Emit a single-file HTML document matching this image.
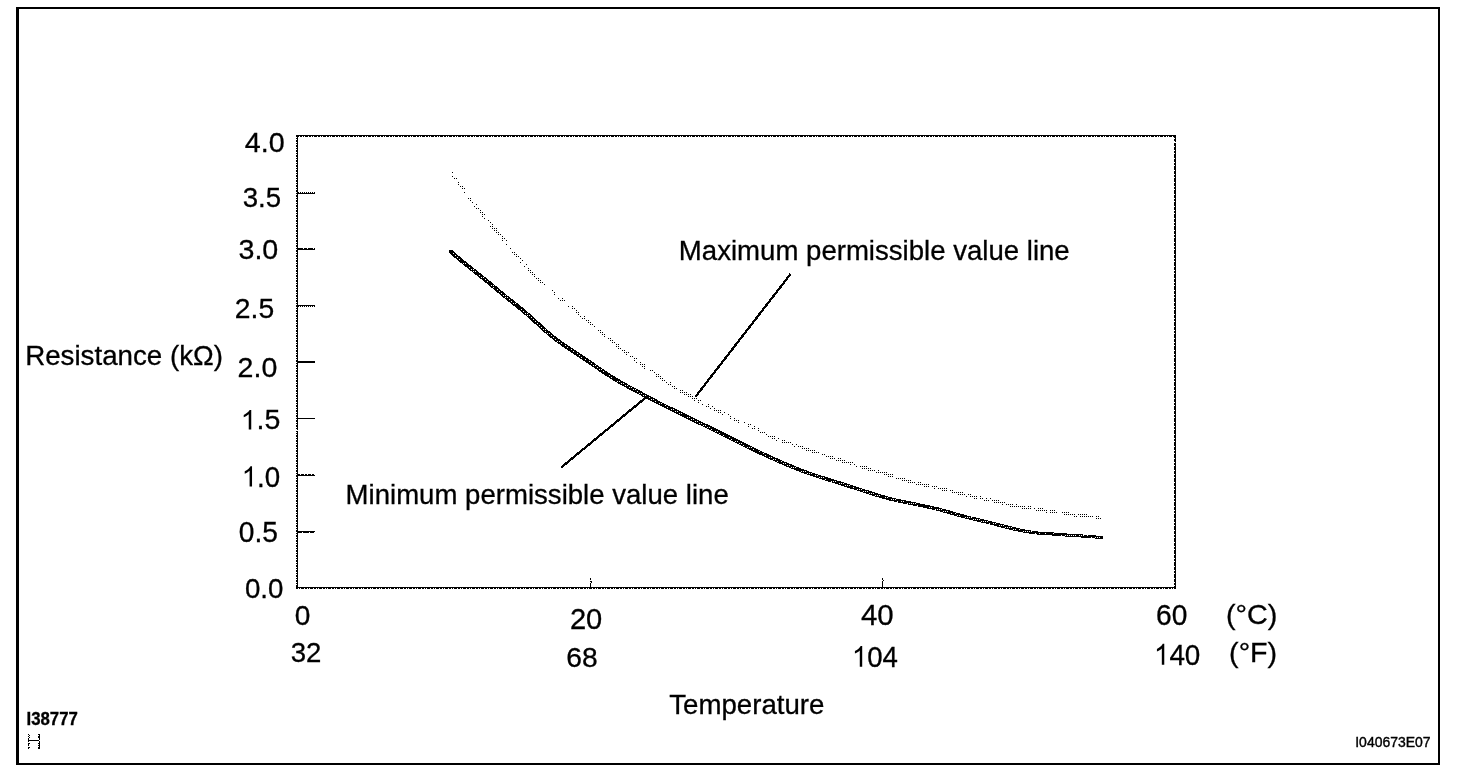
<!DOCTYPE html>
<html><head><meta charset="utf-8"><title>Resistance vs Temperature</title>
<style>
html,body{margin:0;padding:0;background:#fff;}
body{width:1472px;height:778px;overflow:hidden;font-family:"Liberation Sans",sans-serif;}
svg{display:block;position:absolute;left:0;top:0;filter:grayscale(1);}
text{font-family:"Liberation Sans",sans-serif;fill:#000;stroke:#000;stroke-width:0.3px;}
</style></head>
<body>
<svg width="1472" height="778" viewBox="0 0 1472 778">
<rect x="0" y="0" width="1472" height="778" fill="#fff"/>
<!-- outer frame -->
<g shape-rendering="crispEdges" fill="#000">
<rect x="16" y="7" width="3" height="758"/>
<rect x="16" y="7" width="1424" height="2"/>
<rect x="1438" y="7" width="2" height="758"/>
<rect x="16" y="763" width="1424" height="2"/>
</g>
<!-- plot frame -->
<g shape-rendering="crispEdges">
<rect x="296" y="135" width="879" height="453" fill="none" stroke="#000" stroke-width="0"/>
<line x1="296" y1="135.5" x2="1176" y2="135.5" stroke="#000" stroke-width="1"/>
<line x1="296" y1="136.5" x2="1176" y2="136.5" stroke="#000" stroke-width="1" stroke-dasharray="3 1 2 1 1 1"/>
<line x1="297.5" y1="135" x2="297.5" y2="589" stroke="#000" stroke-width="1"/>
<line x1="296.5" y1="135" x2="296.5" y2="589" stroke="#000" stroke-width="1" stroke-dasharray="2 1 1 1"/>
<line x1="296" y1="587.5" x2="1176" y2="587.5" stroke="#000" stroke-width="1"/>
<line x1="296" y1="588.5" x2="1176" y2="588.5" stroke="#000" stroke-width="1" stroke-dasharray="2 1 1 1 3 1"/>
<line x1="1174.5" y1="135" x2="1174.5" y2="589" stroke="#000" stroke-width="1" stroke-dasharray="3 1 2 1 4 1"/>
<line x1="1175.5" y1="135" x2="1175.5" y2="589" stroke="#000" stroke-width="1"/>
<rect x="298" y="193" width="17" height="1" fill="#000"/>
<line x1="298" y1="192.5" x2="315" y2="192.5" stroke="#000" stroke-width="1" stroke-dasharray="1 1"/>
<rect x="298" y="249" width="17" height="1" fill="#000"/>
<line x1="298" y1="248.5" x2="315" y2="248.5" stroke="#000" stroke-width="1" stroke-dasharray="5 1 3 1"/>
<rect x="298" y="305" width="17" height="1" fill="#000"/>
<line x1="298" y1="306.5" x2="315" y2="306.5" stroke="#000" stroke-width="1" stroke-dasharray="1 1"/>
<rect x="298" y="361" width="17" height="1" fill="#000"/>
<rect x="298" y="362" width="17" height="1" fill="#000"/>
<rect x="298" y="418" width="17" height="1" fill="#000"/>
<rect x="298" y="475" width="17" height="1" fill="#000"/>
<line x1="298" y1="474.5" x2="315" y2="474.5" stroke="#000" stroke-width="1" stroke-dasharray="2 1 3 1"/>
<rect x="298" y="531" width="17" height="1" fill="#000"/>
<line x1="298" y1="532.5" x2="315" y2="532.5" stroke="#000" stroke-width="1" stroke-dasharray="4 1 6 1"/>
<rect x="296" y="430" width="2" height="1" fill="#fff"/>
<rect x="1174" y="142" width="2" height="1" fill="#fff"/>
<path d="M590 578h1v2h-1zM590 581h2v2h-1v-1h-1zM590 583h1v4h-1zM882 578h1v2h-1zM883 580h1v1h-1zM882 581h1v6h-1z" fill="#000"/>
</g>
<!-- curves -->
<path d="M452 172h1v1h-1zM452 176h1v1h-1zM454 178h1v1h-1zM456 178h1v1h-1zM458 182h1v1h-1zM458 184h1v1h-1zM460 186h1v1h-1zM462 186h1v1h-1zM462 188h1v1h-1zM464 188h1v1h-1zM464 192h1v1h-1zM468 198h1v1h-1zM470 198h1v1h-1zM470 200h1v1h-1zM472 202h1v1h-1zM474 206h1v1h-1zM476 204h1v1h-1zM476 208h1v1h-1zM478 208h1v1h-1zM480 210h1v1h-1zM480 212h1v1h-1zM482 212h1v1h-1zM482 214h1v1h-1zM482 216h1v1h-1zM484 214h1v1h-1zM484 218h1v1h-1zM488 220h1v1h-1zM490 222h1v1h-1zM490 226h1v1h-1zM492 224h1v1h-1zM492 226h1v1h-1zM492 228h1v1h-1zM494 228h1v1h-1zM494 230h1v1h-1zM496 228h1v1h-1zM496 230h1v1h-1zM496 232h1v1h-1zM498 232h1v1h-1zM498 234h1v1h-1zM500 234h1v1h-1zM502 236h1v1h-1zM502 238h1v1h-1zM502 240h1v1h-1zM504 238h1v1h-1zM506 240h1v1h-1zM506 244h1v1h-1zM510 248h1v1h-1zM512 252h1v1h-1zM514 252h1v1h-1zM514 254h1v1h-1zM516 254h1v1h-1zM516 256h1v1h-1zM518 256h1v1h-1zM520 258h1v1h-1zM520 262h1v1h-1zM522 260h1v1h-1zM524 266h1v1h-1zM526 264h1v1h-1zM528 268h1v1h-1zM528 270h1v1h-1zM530 270h1v1h-1zM530 272h1v1h-1zM532 272h1v1h-1zM532 274h1v1h-1zM534 274h1v1h-1zM534 276h1v1h-1zM536 278h1v1h-1zM538 278h1v1h-1zM538 280h1v1h-1zM540 280h1v1h-1zM540 282h1v1h-1zM542 282h1v1h-1zM544 284h1v1h-1zM552 290h1v1h-1zM554 292h1v1h-1zM554 294h1v1h-1zM558 298h1v1h-1zM560 300h1v1h-1zM562 298h1v1h-1zM562 300h1v1h-1zM564 300h1v1h-1zM568 306h1v1h-1zM572 306h1v1h-1zM572 308h1v1h-1zM574 308h1v1h-1zM576 310h1v1h-1zM576 312h1v1h-1zM578 312h1v1h-1zM578 314h1v1h-1zM580 316h1v1h-1zM582 318h1v1h-1zM584 316h1v1h-1zM584 318h1v1h-1zM586 320h1v1h-1zM588 320h1v1h-1zM588 322h1v1h-1zM590 322h1v1h-1zM590 324h1v1h-1zM592 324h1v1h-1zM594 326h1v1h-1zM598 330h1v1h-1zM600 330h1v1h-1zM600 332h1v1h-1zM602 332h1v1h-1zM602 334h1v1h-1zM604 334h1v1h-1zM604 336h1v1h-1zM608 338h1v1h-1zM610 338h1v1h-1zM610 340h1v1h-1zM612 340h1v1h-1zM612 342h1v1h-1zM614 342h1v1h-1zM616 344h1v1h-1zM616 346h1v1h-1zM618 344h1v1h-1zM618 346h1v1h-1zM618 348h1v1h-1zM620 348h1v1h-1zM622 350h1v1h-1zM624 350h1v1h-1zM624 352h1v1h-1zM626 352h1v1h-1zM626 354h1v1h-1zM628 352h1v1h-1zM630 356h1v1h-1zM632 356h1v1h-1zM634 358h1v1h-1zM634 360h1v1h-1zM636 358h1v1h-1zM636 362h1v1h-1zM640 362h1v1h-1zM640 364h1v1h-1zM642 364h1v1h-1zM642 366h1v1h-1zM644 364h1v1h-1zM644 366h1v1h-1zM644 368h1v1h-1zM650 370h1v1h-1zM652 370h1v1h-1zM654 372h1v1h-1zM656 374h1v1h-1zM656 376h1v1h-1zM658 374h1v1h-1zM658 376h1v1h-1zM660 376h1v1h-1zM660 378h1v1h-1zM662 378h1v1h-1zM662 380h1v1h-1zM664 380h1v1h-1zM666 382h1v1h-1zM668 384h1v1h-1zM670 382h1v1h-1zM670 384h1v1h-1zM672 386h1v1h-1zM674 386h1v1h-1zM674 388h1v1h-1zM676 388h1v1h-1zM680 390h1v1h-1zM680 392h1v1h-1zM682 390h1v1h-1zM682 392h1v1h-1zM684 392h1v1h-1zM684 394h1v1h-1zM686 392h1v1h-1zM686 394h1v1h-1zM688 394h1v1h-1zM688 396h1v1h-1zM690 394h1v1h-1zM690 396h1v1h-1zM692 396h1v1h-1zM692 398h1v1h-1zM694 398h1v1h-1zM694 400h1v1h-1zM696 398h1v1h-1zM698 400h1v1h-1zM698 402h1v1h-1zM700 400h1v1h-1zM702 404h1v1h-1zM706 406h1v1h-1zM708 404h1v1h-1zM708 406h1v1h-1zM710 408h1v1h-1zM712 406h1v1h-1zM714 408h1v1h-1zM714 410h1v1h-1zM716 410h1v1h-1zM718 410h1v1h-1zM718 412h1v1h-1zM720 410h1v1h-1zM720 412h1v1h-1zM722 414h1v1h-1zM724 412h1v1h-1zM728 414h1v1h-1zM730 416h1v1h-1zM730 418h1v1h-1zM734 418h1v1h-1zM734 420h1v1h-1zM736 420h1v1h-1zM738 420h1v1h-1zM738 422h1v1h-1zM744 422h1v1h-1zM748 424h1v1h-1zM748 426h1v1h-1zM750 424h1v1h-1zM752 428h1v1h-1zM754 426h1v1h-1zM754 428h1v1h-1zM758 428h1v1h-1zM758 430h1v1h-1zM760 432h1v1h-1zM762 432h1v1h-1zM764 432h1v1h-1zM766 434h1v1h-1zM768 436h1v1h-1zM770 436h1v1h-1zM772 436h1v1h-1zM772 438h1v1h-1zM774 436h1v1h-1zM774 438h1v1h-1zM776 440h1v1h-1zM778 438h1v1h-1zM782 440h1v1h-1zM782 442h1v1h-1zM784 440h1v1h-1zM784 442h1v1h-1zM786 442h1v1h-1zM788 442h1v1h-1zM790 442h1v1h-1zM792 444h1v1h-1zM794 446h1v1h-1zM796 444h1v1h-1zM798 446h1v1h-1zM800 446h1v1h-1zM802 446h1v1h-1zM802 448h1v1h-1zM804 448h1v1h-1zM806 448h1v1h-1zM806 450h1v1h-1zM808 448h1v1h-1zM808 450h1v1h-1zM810 450h1v1h-1zM812 450h1v1h-1zM812 452h1v1h-1zM814 450h1v1h-1zM814 452h1v1h-1zM816 452h1v1h-1zM818 452h1v1h-1zM822 454h1v1h-1zM824 454h1v1h-1zM826 456h1v1h-1zM828 456h1v1h-1zM830 456h1v1h-1zM830 458h1v1h-1zM832 456h1v1h-1zM832 458h1v1h-1zM834 458h1v1h-1zM836 460h1v1h-1zM838 458h1v1h-1zM838 460h1v1h-1zM840 458h1v1h-1zM840 460h1v1h-1zM842 460h1v1h-1zM842 462h1v1h-1zM844 460h1v1h-1zM844 462h1v1h-1zM846 462h1v1h-1zM848 462h1v1h-1zM850 462h1v1h-1zM850 464h1v1h-1zM852 462h1v1h-1zM854 464h1v1h-1zM856 466h1v1h-1zM860 466h1v1h-1zM862 466h1v1h-1zM862 468h1v1h-1zM864 466h1v1h-1zM864 468h1v1h-1zM866 466h1v1h-1zM866 468h1v1h-1zM868 468h1v1h-1zM868 470h1v1h-1zM870 468h1v1h-1zM870 470h1v1h-1zM872 470h1v1h-1zM874 470h1v1h-1zM876 472h1v1h-1zM878 470h1v1h-1zM878 472h1v1h-1zM880 472h1v1h-1zM882 472h1v1h-1zM884 472h1v1h-1zM884 474h1v1h-1zM886 472h1v1h-1zM886 474h1v1h-1zM888 474h1v1h-1zM888 476h1v1h-1zM890 474h1v1h-1zM890 476h1v1h-1zM892 474h1v1h-1zM892 476h1v1h-1zM896 478h1v1h-1zM898 478h1v1h-1zM900 478h1v1h-1zM902 478h1v1h-1zM902 480h1v1h-1zM904 478h1v1h-1zM904 480h1v1h-1zM906 480h1v1h-1zM908 480h1v1h-1zM908 482h1v1h-1zM910 480h1v1h-1zM910 482h1v1h-1zM912 482h1v1h-1zM914 482h1v1h-1zM916 484h1v1h-1zM918 482h1v1h-1zM918 484h1v1h-1zM920 482h1v1h-1zM920 484h1v1h-1zM922 484h1v1h-1zM924 484h1v1h-1zM924 486h1v1h-1zM926 484h1v1h-1zM926 486h1v1h-1zM928 484h1v1h-1zM928 486h1v1h-1zM932 486h1v1h-1zM934 486h1v1h-1zM934 488h1v1h-1zM936 486h1v1h-1zM938 488h1v1h-1zM940 488h1v1h-1zM942 488h1v1h-1zM942 490h1v1h-1zM944 488h1v1h-1zM944 490h1v1h-1zM946 488h1v1h-1zM946 490h1v1h-1zM950 490h1v1h-1zM952 490h1v1h-1zM952 492h1v1h-1zM954 492h1v1h-1zM956 492h1v1h-1zM958 492h1v1h-1zM958 494h1v1h-1zM960 492h1v1h-1zM960 494h1v1h-1zM962 492h1v1h-1zM962 494h1v1h-1zM964 494h1v1h-1zM966 496h1v1h-1zM968 494h1v1h-1zM970 494h1v1h-1zM970 496h1v1h-1zM972 496h1v1h-1zM974 496h1v1h-1zM974 498h1v1h-1zM976 496h1v1h-1zM976 498h1v1h-1zM980 496h1v1h-1zM980 498h1v1h-1zM982 498h1v1h-1zM984 500h1v1h-1zM986 498h1v1h-1zM986 500h1v1h-1zM988 500h1v1h-1zM990 498h1v1h-1zM992 500h1v1h-1zM994 500h1v1h-1zM994 502h1v1h-1zM996 500h1v1h-1zM996 502h1v1h-1zM998 500h1v1h-1zM998 502h1v1h-1zM1000 502h1v1h-1zM1002 502h1v1h-1zM1002 504h1v1h-1zM1004 502h1v1h-1zM1006 504h1v1h-1zM1008 504h1v1h-1zM1010 504h1v1h-1zM1010 506h1v1h-1zM1012 504h1v1h-1zM1012 506h1v1h-1zM1014 506h1v1h-1zM1016 504h1v1h-1zM1016 506h1v1h-1zM1018 506h1v1h-1zM1020 506h1v1h-1zM1022 506h1v1h-1zM1022 508h1v1h-1zM1024 506h1v1h-1zM1024 508h1v1h-1zM1026 508h1v1h-1zM1028 506h1v1h-1zM1028 508h1v1h-1zM1030 506h1v1h-1zM1030 508h1v1h-1zM1034 508h1v1h-1zM1036 510h1v1h-1zM1038 508h1v1h-1zM1038 510h1v1h-1zM1040 508h1v1h-1zM1040 510h1v1h-1zM1042 508h1v1h-1zM1042 510h1v1h-1zM1044 510h1v1h-1zM1046 510h1v1h-1zM1046 512h1v1h-1zM1050 510h1v1h-1zM1050 512h1v1h-1zM1052 510h1v1h-1zM1052 512h1v1h-1zM1054 510h1v1h-1zM1054 512h1v1h-1zM1056 512h1v1h-1zM1062 512h1v1h-1zM1064 512h1v1h-1zM1064 514h1v1h-1zM1066 512h1v1h-1zM1066 514h1v1h-1zM1068 512h1v1h-1zM1068 514h1v1h-1zM1070 514h1v1h-1zM1072 514h1v1h-1zM1074 514h1v1h-1zM1074 516h1v1h-1zM1076 516h1v1h-1zM1078 514h1v1h-1zM1080 514h1v1h-1zM1080 516h1v1h-1zM1082 514h1v1h-1zM1082 516h1v1h-1zM1084 514h1v1h-1zM1084 516h1v1h-1zM1086 514h1v1h-1zM1086 516h1v1h-1zM1088 516h1v1h-1zM1090 516h1v1h-1zM1092 516h1v1h-1zM1096 516h1v1h-1zM1096 518h1v1h-1zM1098 516h1v1h-1zM1098 518h1v1h-1zM1100 518h1v1h-1z" fill="#000" shape-rendering="crispEdges"/>
<polygon points="449.2,250.1 452.1,250.1 460.1,256.9 468.1,263.5 476.1,269.9 484.1,276.2 492.1,282.7 500.1,289.4 508.1,296.0 516.2,302.4 524.2,308.8 532.2,315.7 540.2,323.1 548.2,330.3 556.2,336.9 564.2,342.8 572.2,348.2 580.2,353.5 588.2,358.9 596.2,364.3 604.2,369.8 612.2,375.0 620.2,379.9 628.2,384.4 636.2,388.6 644.2,392.9 652.2,397.2 660.2,401.4 668.2,405.4 676.2,409.3 684.2,413.2 692.2,417.1 700.2,421.0 708.2,424.8 716.2,428.7 724.2,432.7 732.2,436.7 740.2,440.7 748.2,444.7 756.2,448.6 764.2,452.4 772.2,456.1 780.2,459.7 788.2,463.1 796.2,466.4 804.2,469.6 812.2,472.5 820.2,475.1 828.2,477.6 836.2,480.1 844.2,482.6 852.2,485.2 860.2,487.8 868.2,490.4 876.2,493.0 884.2,495.4 892.2,497.6 900.2,499.4 908.2,501.0 916.2,502.6 924.2,504.3 932.2,506.0 940.2,507.9 948.2,510.1 956.2,512.5 964.2,514.7 972.2,516.7 980.2,518.6 988.2,520.5 996.2,522.5 1004.2,524.6 1012.2,526.6 1020.2,528.5 1028.2,530.1 1036.2,531.3 1044.2,532.0 1052.2,532.4 1060.2,533.0 1068.2,533.6 1076.2,534.1 1084.2,534.6 1092.2,535.2 1100.2,535.8 1103.0,536.1 1103.0,539.0 1100.0,539.0 1097.2,538.7 1089.2,538.1 1081.2,537.5 1073.2,537.0 1065.2,536.5 1057.2,535.9 1049.2,535.3 1041.2,534.9 1033.2,534.2 1025.2,533.0 1017.2,531.4 1009.2,529.5 1001.2,527.5 993.2,525.4 985.2,523.4 977.2,521.5 969.2,519.6 961.2,517.6 953.2,515.4 945.2,513.0 937.2,510.8 929.2,508.9 921.2,507.2 913.2,505.5 905.2,503.9 897.2,502.3 889.2,500.5 881.2,498.3 873.2,495.9 865.2,493.3 857.2,490.7 849.2,488.1 841.2,485.5 833.2,483.0 825.2,480.5 817.2,478.0 809.2,475.4 801.2,472.5 793.2,469.3 785.2,466.0 777.2,462.6 769.2,459.0 761.2,455.3 753.2,451.5 745.2,447.6 737.2,443.6 729.2,439.6 721.2,435.6 713.2,431.6 705.2,427.7 697.2,423.9 689.2,420.0 681.2,416.1 673.2,412.2 665.2,408.3 657.2,404.3 649.2,400.1 641.2,395.8 633.2,391.5 625.2,387.3 617.2,382.8 609.2,377.9 601.2,372.7 593.2,367.2 585.2,361.8 577.2,356.4 569.2,351.1 561.2,345.7 553.2,339.8 545.2,333.2 537.2,326.0 529.2,318.6 521.2,311.7 513.2,305.3 505.2,298.9 497.2,292.3 489.2,285.6 481.2,279.1 473.2,272.8 465.2,266.4 457.2,259.8 449.2,253.0" fill="#000" shape-rendering="crispEdges"/>
<path d="M453 253h1v1h-1zM455 255h1v1h-1zM457 257h1v1h-1zM459 259h1v1h-1zM463 263h1v1h-1zM465 263h1v1h-1zM469 267h1v1h-1zM471 269h1v1h-1zM473 269h1v1h-1zM473 271h1v1h-1zM475 271h1v1h-1zM479 275h1v1h-1zM481 277h1v1h-1zM483 277h1v1h-1zM485 279h1v1h-1zM487 281h1v1h-1zM491 285h1v1h-1zM493 285h1v1h-1zM493 287h1v1h-1zM497 289h1v1h-1zM499 291h1v1h-1zM501 293h1v1h-1zM503 295h1v1h-1zM505 295h1v1h-1zM505 297h1v1h-1zM507 297h1v1h-1zM509 299h1v1h-1zM511 301h1v1h-1zM513 303h1v1h-1zM515 303h1v1h-1zM521 309h1v1h-1zM523 311h1v1h-1zM525 313h1v1h-1zM527 313h1v1h-1zM527 315h1v1h-1zM529 315h1v1h-1zM531 317h1v1h-1zM533 319h1v1h-1zM535 321h1v1h-1zM537 323h1v1h-1zM539 325h1v1h-1zM541 327h1v1h-1zM543 329h1v1h-1zM545 329h1v1h-1zM545 331h1v1h-1zM547 333h1v1h-1zM549 333h1v1h-1zM551 335h1v1h-1zM553 337h1v1h-1zM555 339h1v1h-1zM557 341h1v1h-1zM559 341h1v1h-1zM561 343h1v1h-1zM565 345h1v1h-1zM567 347h1v1h-1zM571 349h1v1h-1zM573 351h1v1h-1zM577 353h1v1h-1zM579 355h1v1h-1zM581 357h1v1h-1zM585 359h1v1h-1zM589 361h1v1h-1zM591 363h1v1h-1zM593 365h1v1h-1zM595 365h1v1h-1zM597 367h1v1h-1zM599 369h1v1h-1zM601 369h1v1h-1zM603 371h1v1h-1zM609 375h1v1h-1zM611 377h1v1h-1zM617 381h1v1h-1zM619 381h1v1h-1zM621 383h1v1h-1zM623 383h1v1h-1zM625 385h1v1h-1zM627 385h1v1h-1zM629 387h1v1h-1zM631 387h1v1h-1zM633 389h1v1h-1zM635 389h1v1h-1zM637 391h1v1h-1zM639 393h1v1h-1zM641 393h1v1h-1zM643 395h1v1h-1zM645 395h1v1h-1zM649 397h1v1h-1zM651 399h1v1h-1zM653 399h1v1h-1zM655 401h1v1h-1zM659 403h1v1h-1zM661 403h1v1h-1zM665 405h1v1h-1zM667 407h1v1h-1zM671 409h1v1h-1zM673 409h1v1h-1zM675 411h1v1h-1zM677 411h1v1h-1zM679 413h1v1h-1zM681 413h1v1h-1zM687 417h1v1h-1zM689 417h1v1h-1zM691 419h1v1h-1zM693 419h1v1h-1zM695 421h1v1h-1zM697 421h1v1h-1zM699 423h1v1h-1zM701 423h1v1h-1zM703 425h1v1h-1zM705 425h1v1h-1zM707 427h1v1h-1zM709 427h1v1h-1zM711 429h1v1h-1zM715 431h1v1h-1zM717 431h1v1h-1zM719 433h1v1h-1zM723 435h1v1h-1zM729 437h1v1h-1zM731 439h1v1h-1zM735 441h1v1h-1zM737 441h1v1h-1zM739 443h1v1h-1zM741 443h1v1h-1zM743 445h1v1h-1zM747 447h1v1h-1zM749 447h1v1h-1zM751 447h1v1h-1zM753 449h1v1h-1zM759 451h1v1h-1zM763 453h1v1h-1zM765 455h1v1h-1zM769 457h1v1h-1zM771 457h1v1h-1zM773 459h1v1h-1zM775 459h1v1h-1zM777 461h1v1h-1zM781 461h1v1h-1zM783 463h1v1h-1zM785 463h1v1h-1zM787 465h1v1h-1zM789 465h1v1h-1zM791 467h1v1h-1zM793 467h1v1h-1zM795 467h1v1h-1zM801 471h1v1h-1zM803 471h1v1h-1zM805 471h1v1h-1zM807 473h1v1h-1zM809 473h1v1h-1zM811 473h1v1h-1zM815 475h1v1h-1zM817 475h1v1h-1zM819 477h1v1h-1zM821 477h1v1h-1zM823 477h1v1h-1zM825 479h1v1h-1zM831 481h1v1h-1zM833 481h1v1h-1zM835 481h1v1h-1zM839 483h1v1h-1zM841 483h1v1h-1zM843 483h1v1h-1zM845 485h1v1h-1zM847 485h1v1h-1zM849 485h1v1h-1zM853 487h1v1h-1zM857 489h1v1h-1zM859 489h1v1h-1zM861 489h1v1h-1zM863 491h1v1h-1zM865 491h1v1h-1zM867 491h1v1h-1zM869 493h1v1h-1zM871 493h1v1h-1zM873 493h1v1h-1zM875 495h1v1h-1zM877 495h1v1h-1zM879 495h1v1h-1zM885 497h1v1h-1zM887 497h1v1h-1zM891 499h1v1h-1zM893 499h1v1h-1zM895 499h1v1h-1zM897 501h1v1h-1zM901 501h1v1h-1zM903 501h1v1h-1zM907 503h1v1h-1zM909 503h1v1h-1zM911 503h1v1h-1zM913 503h1v1h-1zM915 503h1v1h-1zM917 505h1v1h-1zM929 507h1v1h-1zM931 507h1v1h-1zM935 509h1v1h-1zM937 509h1v1h-1zM939 509h1v1h-1zM941 509h1v1h-1zM943 511h1v1h-1zM945 511h1v1h-1zM947 511h1v1h-1zM951 513h1v1h-1zM955 513h1v1h-1zM957 515h1v1h-1zM959 515h1v1h-1zM965 517h1v1h-1zM967 517h1v1h-1zM969 517h1v1h-1zM971 517h1v1h-1zM973 519h1v1h-1zM975 519h1v1h-1zM977 519h1v1h-1zM979 519h1v1h-1zM981 521h1v1h-1zM983 521h1v1h-1zM985 521h1v1h-1zM987 521h1v1h-1zM989 523h1v1h-1zM993 523h1v1h-1zM995 523h1v1h-1zM999 525h1v1h-1zM1001 525h1v1h-1zM1003 525h1v1h-1zM1005 527h1v1h-1zM1007 527h1v1h-1zM1009 527h1v1h-1zM1011 527h1v1h-1zM1013 529h1v1h-1zM1015 529h1v1h-1zM1019 529h1v1h-1zM1023 531h1v1h-1zM1025 531h1v1h-1zM1027 531h1v1h-1zM1029 531h1v1h-1zM1031 531h1v1h-1zM1035 533h1v1h-1zM1039 533h1v1h-1zM1045 533h1v1h-1zM1053 533h1v1h-1zM1061 535h1v1h-1zM1065 535h1v1h-1zM1067 535h1v1h-1zM1069 535h1v1h-1zM1071 535h1v1h-1zM1073 535h1v1h-1zM1075 535h1v1h-1zM1079 535h1v1h-1zM1081 535h1v1h-1zM1083 535h1v1h-1zM1087 535h1v1h-1zM1091 537h1v1h-1zM1095 537h1v1h-1zM1097 537h1v1h-1zM1099 537h1v1h-1z" fill="#fff" shape-rendering="crispEdges"/>
<!-- leader lines -->
<line x1="790.4" y1="274.2" x2="695.6" y2="396.6" stroke="#000" stroke-width="2.3" shape-rendering="crispEdges"/>
<line x1="561" y1="467.6" x2="647.2" y2="396.4" stroke="#000" stroke-width="2.3" shape-rendering="crispEdges"/>
<!-- H mark -->
<path d="M28 734h1v1h-1zM29 735h1v1h-1zM28 736h1v1h-1zM29 737h1v1h-1zM28 738h1v1h-1zM28 739h1v1h-1zM28 740h1v1h-1zM28 741h1v1h-1zM28 743h1v1h-1zM29 743h1v1h-1zM28 744h1v1h-1zM28 745h1v1h-1zM28 747h1v1h-1zM29 747h1v1h-1zM28 748h1v1h-1zM39 734h1v1h-1zM39 735h1v1h-1zM39 736h1v1h-1zM39 737h1v1h-1zM39 738h1v1h-1zM39 739h1v1h-1zM39 741h1v1h-1zM39 742h1v1h-1zM39 743h1v1h-1zM39 744h1v1h-1zM39 745h1v1h-1zM39 746h1v1h-1zM39 747h1v1h-1zM39 748h1v1h-1zM38 734h1v1h-1zM38 736h1v1h-1zM38 737h1v1h-1zM38 740h1v1h-1zM38 743h1v1h-1zM38 745h1v1h-1zM38 747h1v1h-1zM38 748h1v1h-1zM28 740h11v1h-11z" fill="#000" shape-rendering="crispEdges"/>
<!-- text -->
<g transform="translate(244.83 151.55) scale(1.0313 0.9924)"><text x="0" y="0" font-size="27.8" font-weight="normal">4.0</text></g>
<g transform="translate(242.71 206.65) scale(0.9945 0.9975)"><text x="0" y="0" font-size="27.8" font-weight="normal">3.5</text></g>
<g transform="translate(238.47 258.95) scale(1.0301 1.0127)"><text x="0" y="0" font-size="27.8" font-weight="normal">3.0</text></g>
<g transform="translate(234.77 317.94) scale(1.0194 1.0228)"><text x="0" y="0" font-size="27.8" font-weight="normal">2.5</text></g>
<g transform="translate(237.56 376.55) scale(1.0278 1.0076)"><text x="0" y="0" font-size="27.8" font-weight="normal">2.0</text></g>
<g transform="translate(240.62 429.45) scale(1.0261 0.9975)"><path d="M763 0H583V1147Q518 1085 412.5 1023T223 930V1104Q375 1175.5 488.5 1277T651 1474H763Z" transform="scale(0.013574 -0.013235)" fill="#000"/><text x="15.461" y="0" font-size="27.8">.5</text></g>
<g transform="translate(241.71 486.54) scale(0.9971 1.043)"><path d="M763 0H583V1147Q518 1085 412.5 1023T223 930V1104Q375 1175.5 488.5 1277T651 1474H763Z" transform="scale(0.013574 -0.013235)" fill="#000"/><text x="15.461" y="0" font-size="27.8">.0</text></g>
<g transform="translate(238.79 542.44) scale(1.0137 1.043)"><text x="0" y="0" font-size="27.8" font-weight="normal">0.5</text></g>
<g transform="translate(244.9 597.94) scale(0.9973 1.0228)"><text x="0" y="0" font-size="27.8" font-weight="normal">0.0</text></g>
<g transform="translate(294.69 624.85) scale(1.0113 1.0025)"><text x="0" y="0" font-size="27.8" font-weight="normal">0</text></g>
<g transform="translate(290.71 662.04) scale(0.993 1.0228)"><text x="0" y="0" font-size="27.8" font-weight="normal">32</text></g>
<g transform="translate(569.93 628.84) scale(1.0478 1.0532)"><text x="0" y="0" font-size="27.8" font-weight="normal">20</text></g>
<g transform="translate(566.28 666.75) scale(1.0159 0.9975)"><text x="0" y="0" font-size="27.8" font-weight="normal">68</text></g>
<g transform="translate(861.01 624.84) scale(1.0586 1.0278)"><text x="0" y="0" font-size="27.8" font-weight="normal">40</text></g>
<g transform="translate(851.92 666.73) scale(0.9929 1.0684)"><path d="M763 0H583V1147Q518 1085 412.5 1023T223 930V1104Q375 1175.5 488.5 1277T651 1474H763Z" transform="scale(0.013574 -0.013235)" fill="#000"/><text x="15.461" y="0" font-size="27.8">04</text></g>
<g transform="translate(1155.98 624.63) scale(1.0124 1.0633)"><text x="0" y="0" font-size="27.8" font-weight="normal">60</text></g>
<g transform="translate(1153.9 664.73) scale(1.0012 1.0734)"><path d="M763 0H583V1147Q518 1085 412.5 1023T223 930V1104Q375 1175.5 488.5 1277T651 1474H763Z" transform="scale(0.013574 -0.013235)" fill="#000"/><text x="15.461" y="0" font-size="27.8">40</text></g>
<g transform="translate(1225.89 624.11) scale(1.0335 1.0077)"><text x="0" y="0" font-size="27.8" font-weight="normal">(°C)</text></g>
<g transform="translate(1229.1 662.05) scale(1.0312 1.0)"><text x="0" y="0" font-size="27.8" font-weight="normal">(°F)</text></g>
<g transform="translate(25.16 365.4) scale(0.9974 0.9728)"><text x="0" y="0" font-size="27.8" font-weight="normal">Resistance (kΩ)</text></g>
<g transform="translate(678.87 260.4) scale(0.9926 0.9926)"><text x="0" y="0" font-size="27.8" font-weight="normal">Maximum permissible value line</text></g>
<g transform="translate(345.57 504.0) scale(0.9923 0.9877)"><text x="0" y="0" font-size="27.8" font-weight="normal">Minimum permissible value line</text></g>
<g transform="translate(669.25 713.6) scale(0.9948 1.0263)"><text x="0" y="0" font-size="27.8" font-weight="normal">Temperature</text></g>
<g transform="translate(1355.24 747.27) scale(0.5027 0.5165)"><text x="0" y="0" font-size="27.8" font-weight="normal" style="stroke-width:0.8px">I040673E07</text></g>
<g transform="translate(26.54 724.84) scale(0.6037 0.6481)"><text x="0" y="0" font-size="27.8" font-weight="bold" style="stroke-width:0.5px">I38777</text></g>
</svg>
</body></html>
